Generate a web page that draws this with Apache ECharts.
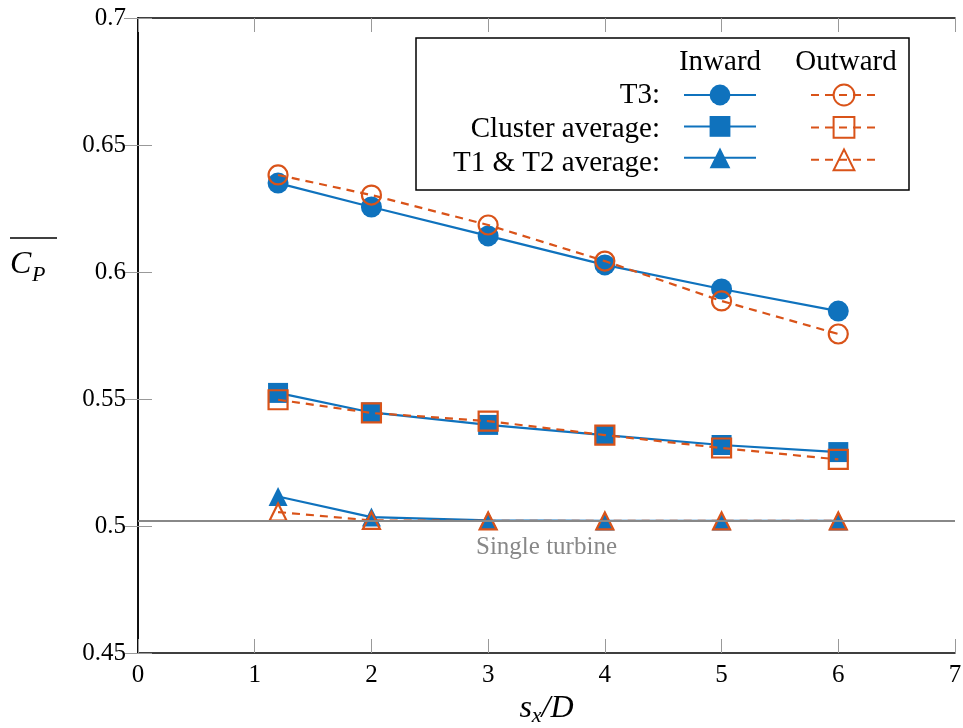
<!DOCTYPE html>
<html>
<head>
<meta charset="utf-8">
<script src="https://cdn.jsdelivr.net/npm/echarts@6/dist/echarts.min.js"></script>
<style>
  html, body { margin: 0; padding: 0; background: #fff; }
  #main { width: 963px; height: 728px; }
</style>
</head>
<body>
<div id="main"></div>
<script>
var chartDom = document.getElementById('main');
var myChart = echarts.init(chartDom);
var option;

// spacing s_x/D
var spacing = [1.2, 2, 3, 4, 5, 6];
// mean power coefficient
var t3Inward = [0.635, 0.6256, 0.6142, 0.6028, 0.5933, 0.5846];
var t3Outward = [0.6382, 0.6303, 0.6185, 0.6043, 0.5886, 0.5756];
var clusterInward = [0.5524, 0.5447, 0.5398, 0.5358, 0.5319, 0.5291];
var clusterOutward = [0.5497, 0.5445, 0.5413, 0.5358, 0.5307, 0.5262];
var t12Inward = [0.5116, 0.5035, 0.5022, 0.502, 0.502, 0.502];
var t12Outward = [0.5055, 0.5022, 0.502, 0.502, 0.502, 0.502];
var singleTurbine = 0.502;

var blue = '#0f72bd';
var orange = '#d95319';
var font = 'Liberation Serif';

function pairs(ys) {
  return spacing.map(function (x, i) { return [x, ys[i]]; });
}

function inward(name, ys, symbol, size) {
  return {
    name: name,
    type: 'line',
    data: pairs(ys),
    symbol: symbol,
    symbolSize: size,
    z: 3,
    lineStyle: { color: blue, width: 2.2 },
    itemStyle: { color: blue, borderWidth: 0 }
  };
}

function outward(name, ys, symbol, size) {
  return {
    name: name,
    type: 'line',
    data: pairs(ys),
    symbol: symbol,
    symbolSize: size,
    z: 4,
    lineStyle: { color: orange, width: 2.2, type: [8, 6] },
    itemStyle: { color: 'rgba(0,0,0,0)', borderColor: orange, borderWidth: 2.2 }
  };
}

var tickStyle = { show: true, inside: true, length: 14, lineStyle: { color: '#999', width: 1 } };

option = {
  backgroundColor: '#fff',
  animation: false,
  grid: { left: 138, top: 18, right: 8, bottom: 75, outerBoundsMode: 'none' },
  xAxis: [{
    type: 'value', min: 0, max: 7, interval: 1,
    axisLine: { show: true, lineStyle: { color: '#000', width: 1.5 } },
    axisTick: tickStyle,
    splitLine: { show: false },
    axisLabel: { fontFamily: font, fontSize: 25, color: '#000', margin: 10 },
    name: '{i|s}{sub|x}{i|/D}',
    nameLocation: 'middle',
    nameGap: 37,
    nameTextStyle: {
      rich: {
        i: { fontFamily: font, fontStyle: 'italic', fontSize: 32, color: '#000' },
        sub: { fontFamily: font, fontStyle: 'italic', fontSize: 22, color: '#000', verticalAlign: 'bottom', padding: [14, 0, 0, 0] }
      }
    }
  }, {
    type: 'value', min: 0, max: 7, interval: 1, position: 'top',
    axisLine: { show: true, lineStyle: { color: '#000', width: 1.5 } },
    axisTick: tickStyle,
    splitLine: { show: false },
    axisLabel: { show: false }
  }],
  yAxis: [{
    type: 'value', min: 0.45, max: 0.7, interval: 0.05,
    axisLine: { show: true, lineStyle: { color: '#000', width: 1.5 } },
    axisTick: tickStyle,
    splitLine: { show: false },
    axisLabel: {
      fontFamily: font, fontSize: 25, color: '#000', margin: 12,
      formatter: function (v) { return String(parseFloat(v.toFixed(2))); }
    }
  }, {
    type: 'value', min: 0.45, max: 0.7, interval: 0.05, position: 'right',
    axisLine: { show: true, lineStyle: { color: '#000', width: 1.5 } },
    axisTick: tickStyle,
    splitLine: { show: false },
    axisLabel: { show: false }
  }],
  legend: [{
    orient: 'vertical',
    left: 683, top: 82,
    itemWidth: 72, itemHeight: 26, itemGap: 8,
    padding: 0,
    formatter: function () { return ''; },
    data: ['T3 inward', 'Cluster inward', 'T1 & T2 inward']
  }, {
    orient: 'vertical',
    left: 810, top: 82,
    itemWidth: 66, itemHeight: 26, itemGap: 8,
    padding: 0,
    formatter: function () { return ''; },
    data: ['T3 outward', 'Cluster outward', 'T1 & T2 outward']
  }],
  graphic: [
    { type: 'rect', z: 1, shape: { x: 416, y: 38, width: 493, height: 152 },
      style: { fill: '#fff', stroke: '#000', lineWidth: 1.5 } },
    { type: 'text', z: 10, x: 720, y: 62, style: { text: 'Inward', font: '29px "Liberation Serif"', fill: '#000', align: 'center', verticalAlign: 'middle' } },
    { type: 'text', z: 10, x: 846, y: 62, style: { text: 'Outward', font: '29px "Liberation Serif"', fill: '#000', align: 'center', verticalAlign: 'middle' } },
    { type: 'text', z: 10, x: 660, y: 95, style: { text: 'T3:', font: '29px "Liberation Serif"', fill: '#000', align: 'right', verticalAlign: 'middle' } },
    { type: 'text', z: 10, x: 660, y: 129, style: { text: 'Cluster average:', font: '29px "Liberation Serif"', fill: '#000', align: 'right', verticalAlign: 'middle' } },
    { type: 'text', z: 10, x: 660, y: 163, style: { text: 'T1 & T2 average:', font: '29px "Liberation Serif"', fill: '#000', align: 'right', verticalAlign: 'middle' } },
    // y axis name with overline
    { type: 'text', x: 10, y: 265, style: { text: 'C', font: 'italic 32px "Liberation Serif"', fill: '#000', verticalAlign: 'middle' } },
    { type: 'text', x: 32, y: 275, style: { text: 'P', font: 'italic 22px "Liberation Serif"', fill: '#000', verticalAlign: 'middle' } },
    { type: 'line', shape: { x1: 10, y1: 238, x2: 57, y2: 238 }, style: { stroke: '#000', lineWidth: 1.5 } }
  ],
  series: [
    {
      name: 'Single turbine',
      type: 'line',
      data: [],
      z: 2,
      markLine: {
        silent: true,
        symbol: 'none',
        precision: 4,
        lineStyle: { color: '#888', width: 2, type: 'solid' },
        label: {
          position: 'insideMiddleBottom', formatter: 'Single turbine',
          fontFamily: font, fontSize: 25, color: '#888', distance: 14
        },
        data: [{ yAxis: singleTurbine }]
      }
    },
    inward('T3 inward', t3Inward, 'circle', 21),
    inward('Cluster inward', clusterInward, 'rect', 20),
    inward('T1 & T2 inward', t12Inward, 'triangle', 19),
    outward('T3 outward', t3Outward, 'circle', 19),
    outward('Cluster outward', clusterOutward, 'rect', 19),
    outward('T1 & T2 outward', t12Outward, 'triangle', 17)
  ]
};
myChart.setOption(option);
</script>
</body>
</html>
